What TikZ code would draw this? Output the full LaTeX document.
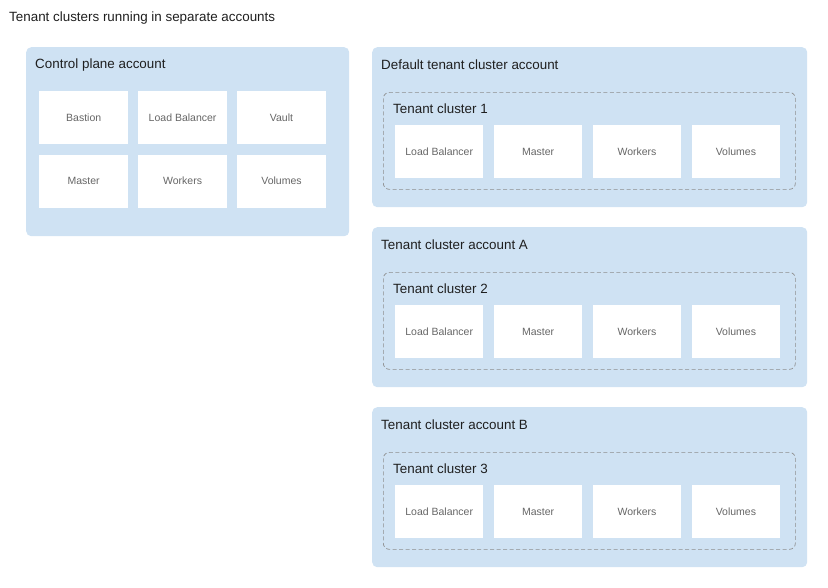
\documentclass[tikz,border=0pt]{standalone}
\usepackage{fontspec}
\setmainfont{Liberation Sans}
\usetikzlibrary{positioning}
\definecolor{AccountBlue}{HTML}{CFE2F3}
\definecolor{DashGray}{HTML}{8E8E8E}
\definecolor{BoxText}{HTML}{666666}
\definecolor{Ink}{HTML}{1F1F1F}

\begin{document}
\begin{tikzpicture}[
  x=1pt,y=-1pt,
  every node/.style={font=\fontsize{13.4}{15}\selectfont,text=Ink},
  account/.style={fill=AccountBlue,rounded corners=5pt,anchor=north west,inner sep=0pt},
  cluster/.style={draw=DashGray,line width=0.7pt,dash pattern=on 4pt off 2.5pt,rounded corners=6pt,
    anchor=north west,inner sep=0pt,minimum width=412,minimum height=97},
  service/.style={fill=white,anchor=north west,inner sep=0pt,minimum width=89,minimum height=53,
    font=\fontsize{10.5}{12}\selectfont,text=BoxText},
  caption/.style={anchor=west,inner sep=0pt}
]
  \useasboundingbox (0,0) rectangle (828,587);
  \node[caption] (title) at (9,18) {Tenant clusters running in separate accounts};

  % Control plane account.
  \node[account,minimum width=323,minimum height=189] (cp) at (26,47) {};
  \node[caption] (cplabel) at (35,65) {Control plane account};
  \node[service] (bastion) at (39,91) {Bastion};
  \node[service,right=9.5pt of bastion] (cplb) {Load Balancer};
  \node[service,right=9.5pt of cplb] (vault) {Vault};
  \node[service,below=10pt of bastion] (cpmaster) {Master};
  \node[service,right=9.5pt of cpmaster] (cpworkers) {Workers};
  \node[service,right=9.5pt of cpworkers] (cpvolumes) {Volumes};

  % Tenant cluster accounts.
  \foreach \y/\acc/\cl/\n in {47/Default tenant cluster account/1/a,
                             227/Tenant cluster account A/2/b,
                             407/Tenant cluster account B/3/c} {
    \node[account,minimum width=435,minimum height=160] (acc\n) at (372,\y) {};
    \node[caption] (acclabel\n) at (381,\y+18) {\acc};
    \node[cluster] (cl\n) at (383,\y+45) {};
    \node[caption] (cllabel\n) at (393,\y+62) {Tenant cluster \cl};
    \node[service,minimum width=88] (lb\n) at (395,\y+78) {Load Balancer};
    \node[service,minimum width=88,right=10.5pt of lb\n] (master\n) {Master};
    \node[service,minimum width=88,right=10.5pt of master\n] (workers\n) {Workers};
    \node[service,minimum width=88,right=10.5pt of workers\n] (volumes\n) {Volumes};
  }
\end{tikzpicture}
\end{document}
